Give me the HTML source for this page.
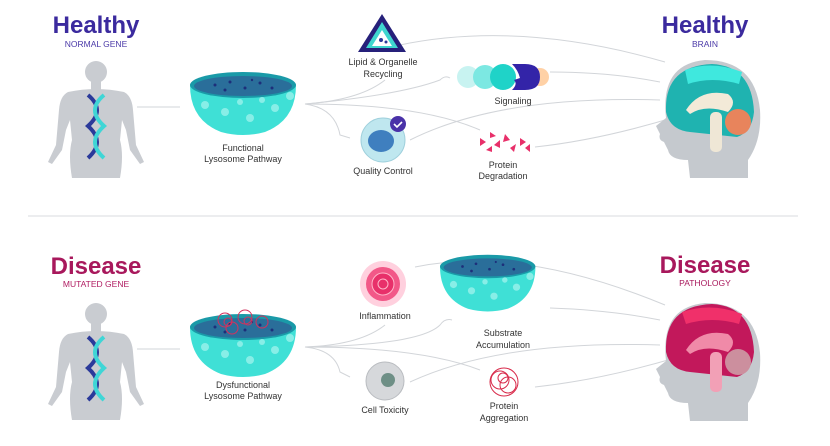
<!DOCTYPE html>
<html><head><meta charset="utf-8"><style>
html,body{margin:0;padding:0;background:#fff;}
svg{display:block;font-family:"Liberation Sans",sans-serif;}
.l{font-size:9px;fill:#333;text-anchor:middle;}
.c{fill:none;stroke:#d2d5d9;stroke-width:1;}
</style></head><body>
<svg width="830" height="446" viewBox="0 0 830 446" xmlns="http://www.w3.org/2000/svg">
<defs>
<g id="body">
<circle cx="96" cy="72" r="11" fill="#c9ccd1"/>
<rect x="91" y="80" width="10" height="10" fill="#c9ccd1"/>
<path d="M68 92 Q96 86 124 92 Q132 96 133 110 L136 145 L144 162 L140 164 L130 150 L126 130 L122 120 L120 140 Q124 155 120 178 L72 178 Q68 155 72 140 L70 120 L66 130 L62 150 L52 164 L48 162 L56 145 L59 110 Q60 96 68 92Z" fill="#c9ccd1"/>
</g>
<g id="head">
<path d="M705 60 Q755 60 760 110 Q762 140 748 160 L748 178 L690 178 L688 160 Q670 160 668 150 L664 142 Q658 140 660 134 L656 126 L666 118 Q660 64 705 60Z" fill="#c5c9ce"/>
</g>
<g id="bowl">
<path d="M190 85 Q243 70 296 85 Q296 120 265 132 Q243 138 221 132 Q190 120 190 85Z" fill="#3fe0d6"/>
<ellipse cx="243" cy="85" rx="53" ry="13" fill="#1a9aa8"/>
<ellipse cx="243" cy="86" rx="49" ry="10" fill="#2a6e9a"/>
<g fill="#1d2f7a"><circle cx="215" cy="85" r="1.5"/><circle cx="230" cy="82" r="1.5"/><circle cx="245" cy="88" r="1.5"/><circle cx="260" cy="83" r="1.5"/><circle cx="272" cy="88" r="1.5"/><circle cx="225" cy="90" r="1.5"/><circle cx="252" cy="80" r="1.2"/></g>
<g fill="#a8f5ef" opacity=".7"><circle cx="205" cy="105" r="4"/><circle cx="225" cy="112" r="4"/><circle cx="250" cy="118" r="4"/><circle cx="275" cy="108" r="4"/><circle cx="290" cy="96" r="4"/><circle cx="240" cy="102" r="3"/><circle cx="262" cy="100" r="3"/></g>
</g>
<g id="dna">
<path d="M88 95 Q106 110 88 126 Q106 142 88 158" stroke="#2b3a9a" stroke-width="4" fill="none"/>
<path d="M104 95 Q86 110 104 126 Q86 142 104 158" stroke="#3fd6d6" stroke-width="4" fill="none"/>
</g>
</defs>

<!-- TOP -->
<text x="96" y="33" font-size="24" font-weight="bold" fill="#3b2a9e" text-anchor="middle">Healthy</text>
<text x="96" y="47" font-size="8.5" fill="#4b3aa8" text-anchor="middle">NORMAL GENE</text>
<use href="#body"/><use href="#dna"/>
<line x1="137" y1="107" x2="180" y2="107" class="c"/>
<use href="#bowl"/>
<text x="243" y="151" class="l">Functional</text>
<text x="243" y="162" class="l">Lysosome Pathway</text>

<path class="c" d="M305 104 Q360 100 385 80"/>
<path class="c" d="M305 104 Q335 108 340 135 L350 138"/>
<path class="c" d="M305 104 Q420 104 480 130"/>
<path class="c" d="M305 104 Q400 95 440 80 Q445 75 450 78"/>
<path class="c" d="M400 45 Q520 20 665 62"/>
<path class="c" d="M550 72 Q610 72 660 82"/>
<path class="c" d="M410 140 Q500 95 660 100"/>
<path class="c" d="M535 147 Q600 140 675 117"/>

<polygon points="382,14 406,52 358,52" fill="#26207a"/>
<polygon points="382,22 398,48 366,48" fill="#3fd6cf"/>
<polygon points="382,30 392,46 372,46" fill="#fff"/>
<circle cx="381" cy="40" r="2" fill="#2b3a9a"/><circle cx="386" cy="42" r="1.5" fill="#2b3a9a"/>
<text x="383" y="65" class="l">Lipid &amp; Organelle</text>
<text x="383" y="77" class="l">Recycling</text>

<circle cx="383" cy="140" r="22" fill="#bfe7ef" stroke="#9fd0dc"/>
<ellipse cx="381" cy="141" rx="13" ry="11" fill="#3f7fbf"/>
<circle cx="398" cy="124" r="8" fill="#4a32a8"/>
<path d="M394 124 l3 3 l5 -5" stroke="#fff" stroke-width="1.6" fill="none"/>
<text x="383" y="174" class="l">Quality Control</text>

<circle cx="468" cy="77" r="11" fill="#c8f3f1"/>
<circle cx="485" cy="77" r="12" fill="#7ce8e2"/>
<circle cx="503" cy="77" r="13" fill="#1fd3c8"/>
<circle cx="540" cy="77" r="9" fill="#ffb36b" opacity=".6"/>
<path d="M512 64 L525 64 Q540 64 540 77 Q540 90 525 90 L512 90 Q518 84 514 80 L520 78 Q518 70 512 64Z" fill="#3324a8"/>
<text x="513" y="104" class="l">Signaling</text>

<g fill="#e8306a">
<polygon points="480,138 486,142 480,146"/><polygon points="490,132 496,136 490,138"/><polygon points="494,145 500,140 500,148"/><polygon points="505,134 510,140 503,142"/><polygon points="510,148 516,144 514,152"/><polygon points="520,138 526,142 520,146"/><polygon points="525,148 530,144 530,152"/><polygon points="486,150 492,146 492,152"/>
</g>
<text x="503" y="168" class="l">Protein</text>
<text x="503" y="179" class="l">Degradation</text>

<text x="705" y="33" font-size="24" font-weight="bold" fill="#3b2a9e" text-anchor="middle">Healthy</text>
<text x="705" y="47" font-size="8.5" fill="#4b3aa8" text-anchor="middle">BRAIN</text>
<use href="#head"/>
<path d="M666 112 Q664 66 712 64 Q752 66 754 112 Q752 132 737 137 L690 132 Q670 130 666 112Z" fill="#1fb3b0"/>
<path d="M685 70 Q712 60 742 72 L739 84 Q712 76 688 84Z" fill="#3fe8de"/>
<path d="M686 110 Q700 88 728 94 Q738 102 728 112 Q705 104 690 114Z" fill="#f3ead8"/>
<rect x="710" y="112" width="12" height="40" rx="5" fill="#efe7d6"/>
<circle cx="738" cy="122" r="13" fill="#e8845c"/>

<line x1="28" y1="216" x2="798" y2="216" stroke="#d8dbdf" stroke-width="1"/>

<!-- BOTTOM -->
<text x="96" y="274" font-size="24" font-weight="bold" fill="#a8185c" text-anchor="middle">Disease</text>
<text x="96" y="287" font-size="8.5" fill="#b01c62" text-anchor="middle">MUTATED GENE</text>
<g transform="translate(0,242)"><use href="#body"/><use href="#dna"/>
<line x1="137" y1="107" x2="180" y2="107" class="c"/>
<use href="#bowl"/>
<g fill="none" stroke="#d2325e" stroke-width="1"><circle cx="225" cy="78" r="7"/><circle cx="245" cy="75" r="7"/><circle cx="262" cy="80" r="6"/><circle cx="232" cy="86" r="6"/><circle cx="228" cy="80" r="4"/><circle cx="248" cy="79" r="4"/></g>
</g>
<text x="243" y="388" class="l">Dysfunctional</text>
<text x="243" y="399" class="l">Lysosome Pathway</text>

<path class="c" d="M305 347 Q360 345 385 325"/>
<path class="c" d="M305 347 Q335 350 340 372 L350 377"/>
<path class="c" d="M305 347 Q420 347 480 370"/>
<path class="c" d="M305 347 Q420 345 440 325 Q445 318 452 320"/>
<path class="c" d="M415 267 Q520 245 665 305"/>
<path class="c" d="M550 308 Q610 310 660 320"/>
<path class="c" d="M410 382 Q500 340 660 345"/>
<path class="c" d="M535 387 Q600 380 675 358"/>

<circle cx="383" cy="284" r="23" fill="#ffd0de"/>
<circle cx="383" cy="284" r="17" fill="#f25888"/>
<circle cx="383" cy="284" r="11" fill="#e8306a" stroke="#ffb5c9"/>
<circle cx="383" cy="284" r="5" fill="none" stroke="#ffb5c9"/>
<text x="385" y="319" class="l">Inflammation</text>

<g transform="translate(269,190) scale(0.9)"><use href="#bowl"/></g>
<text x="503" y="336" class="l">Substrate</text>
<text x="503" y="348" class="l">Accumulation</text>

<circle cx="385" cy="381" r="19" fill="#d6d8db" stroke="#b9bcc0"/>
<circle cx="388" cy="380" r="7" fill="#6e8f86"/>
<text x="385" y="413" class="l">Cell Toxicity</text>

<g fill="none" stroke="#d82a4a" stroke-width="1"><circle cx="504" cy="382" r="14"/><circle cx="500" cy="380" r="9"/><circle cx="508" cy="385" r="8"/><circle cx="503" cy="378" r="5"/></g>
<text x="504" y="409" class="l">Protein</text>
<text x="504" y="421" class="l">Aggregation</text>

<text x="705" y="273" font-size="24" font-weight="bold" fill="#a8185c" text-anchor="middle">Disease</text>
<text x="705" y="286" font-size="8.5" fill="#a8185c" text-anchor="middle">PATHOLOGY</text>
<g transform="translate(0,243)"><use href="#head"/></g>
<path d="M666 352 Q664 306 712 304 Q752 306 754 352 Q752 372 737 377 L690 372 Q670 370 666 352Z" fill="#c2185b"/>
<path d="M682 312 Q712 302 742 314 L739 324 Q712 316 686 324Z" fill="#f0306a"/>
<path d="M686 350 Q700 328 728 334 Q738 342 728 352 Q705 344 690 354Z" fill="#f08aa8"/>
<rect x="710" y="352" width="12" height="40" rx="5" fill="#f2a0b6"/>
<circle cx="738" cy="362" r="13" fill="#cc8f9e"/>
</svg>
</body></html>
